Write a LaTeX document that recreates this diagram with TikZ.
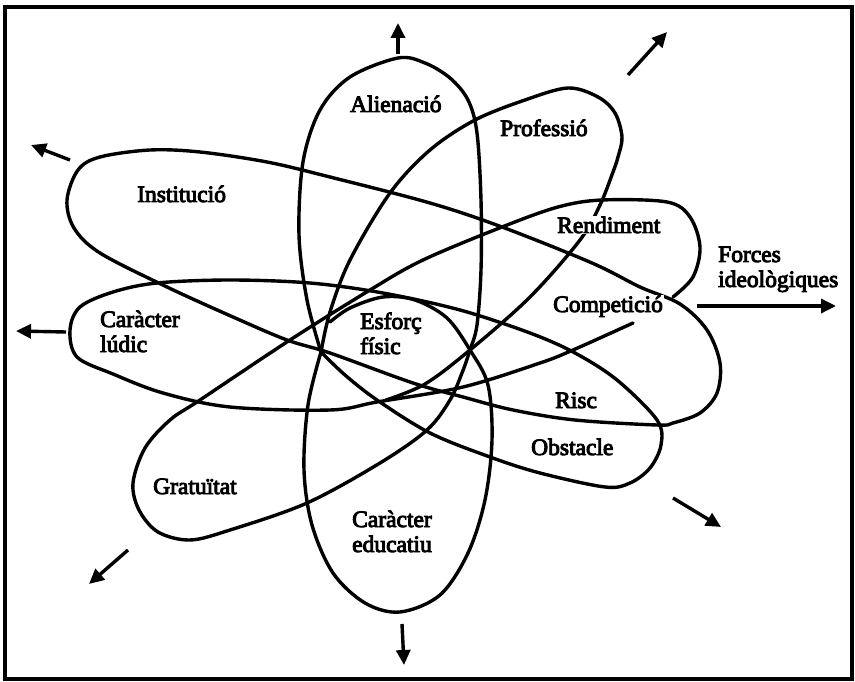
\documentclass[tikz,border=0pt]{standalone}
\usepackage{fontspec}
\newfontfamily\lblfont{Liberation Serif}[FakeBold=4]
\usetikzlibrary{arrows.meta}
\tikzset{
  curve/.style={line width=3.4pt, line join=round, line cap=round},
  lbl/.style={font=\lblfont\fontsize{23.5}{25}\selectfont, fill=white, inner sep=1pt, align=left},
  arr/.style={line width=3.4pt, -{Triangle[length=15pt,width=14pt]}},
}
\begin{document}
\begin{tikzpicture}[x=1pt,y=-1pt]
\useasboundingbox (0,0) rectangle (855,682);
\draw[line width=3.8pt] (5,7) rectangle (852,679);

% hubs
\coordinate (P) at (321,352);
\coordinate (Q) at (470,350);

% Institucio - Risc loop
\draw[curve] plot[smooth cycle, tension=0.55] coordinates {
 (67,200) (78,170) (100,157) (150,150) (200,152) (267,162) (330,177) (430,203)
 (502,227) (592,263) (640,287) (680,304) (707,330) (720,363) (717,393) (700,413)
 (673,423) (657,425) (575,420) (513,410) (463,397) (413,383) (330,353) (287,340) (233,317)
 (167,287) (100,253) (74,228)};

% Alienacio (upper) -> Gratuitat -> Rendiment
\draw[curve] plot[smooth, tension=0.55] coordinates {
 (P) (307,300) (299,235) (303,162) (320,110) (350,77) (398,58) (425,63) (450,78)
 (468,100) (477,133) (481,200) (481,270) (477,325) (Q) (462,373) (450,400) (427,430)
 (380,463) (307,503) (230,530) (190,540) (158,532) (139,510) (133,483) (145,448)
 (170,420) (200,400) (290,340) (370,290) (423,260) (502,227) (558,207) (602,200)
 (667,202) (690,217) (700,247) (693,277) (673,297)};

% Competicio -> Caracter ludic -> Obstacle -> hub
\draw[curve] plot[smooth, tension=0.55] coordinates {
 (633,323) (573,350) (540,363) (463,387) (377,402) (330,410) (230,407) (163,393)
 (113,374) (77,357) (70,330) (80,307) (113,292) (157,283) (230,280) (310,283)
 (383,293) (460,310) (530,333) (575,353) (617,380) (657,420) (661,445) (650,468)
 (630,483) (605,487) (540,473) (490,457) (430,433) (377,400) (345,375) (P)};

% Caracter educatiu loop -> arc around Esforc fisic
\draw[curve] plot[smooth, tension=0.55] coordinates {
 (P) (308,405) (304,470) (312,525) (333,573) (365,603) (400,612) (440,595)
 (468,553) (485,500) (492,440) (488,385) (Q) (447,318) (415,300) (383,297)
 (350,308) (330,322)};

% Professio loop
\draw[curve] plot[smooth, tension=0.55] coordinates {
 (P) (330,312) (350,260) (390,193) (430,150) (475,120) (525,100) (568,88)
 (598,97) (615,113) (622,137) (618,157) (613,172) (600,205) (580,240) (530,297) (Q)
 (425,384) (386,400)};

% arrows
\coordinate (nT) at (398,54);  \coordinate (nH) at (398,23);
\coordinate (neT) at (628,75); \coordinate (neH) at (667,32);
\coordinate (nwT) at (70,160); \coordinate (nwH) at (31,145);
\coordinate (wT) at (66,332);  \coordinate (wH) at (16,331);
\coordinate (eT) at (697,306); \coordinate (eH) at (836,306);
\coordinate (seT) at (673,498); \coordinate (seH) at (721,527);
\coordinate (swT) at (128,550); \coordinate (swH) at (89,584);
\coordinate (sT) at (402,624); \coordinate (sH) at (404,665);
\draw[arr] (nT) -- (nH);
\draw[arr] (neT) -- (neH);
\draw[arr] (nwT) -- (nwH);
\draw[arr] (wT) -- (wH);
\draw[arr] (eT) -- (eH);
\draw[arr] (seT) -- (seH);
\draw[arr] (swT) -- (swH);
\draw[arr] (sT) -- (sH);

% labels
\node[lbl, anchor=base west] (alien) at (349,112) {Alienació};
\node[lbl, anchor=base west] (prof) at (499,136) {Professió};
\node[lbl, anchor=base west] (inst) at (136,202) {Institució};
\node[lbl, anchor=base west] (rend) at (556,233) {Rendiment};
\node[lbl, anchor=base west] (comp) at (552,312) {Competició};
\node[lbl, anchor=base west] (forces) at (717,287) {Forces\\ideològiques};
\node[lbl, anchor=base west] (ludic) at (99,352) {Caràcter\\lúdic};
\node[lbl, anchor=base west] (esforc) at (359,354) {Esforç\\físic};
\node[lbl, anchor=base west] (risc) at (554,408) {Risc};
\node[lbl, anchor=base west] (obst) at (530,455) {Obstacle};
\node[lbl, anchor=base west] (grat) at (152,494) {Gratuïtat};
\node[lbl, anchor=base west] (educ) at (351,552) {Caràcter\\educatiu};
\end{tikzpicture}
\end{document}
